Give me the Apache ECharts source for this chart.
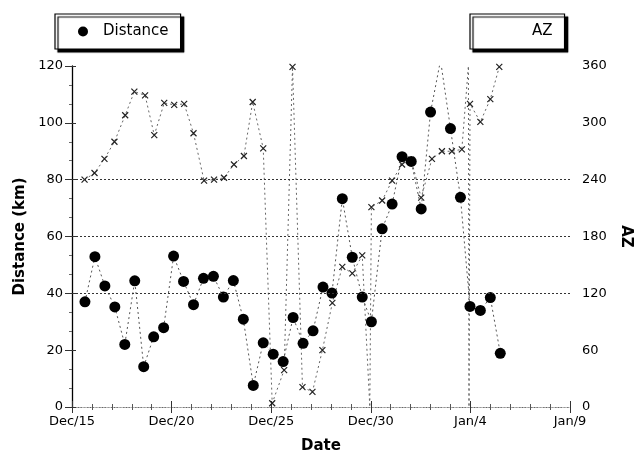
<!DOCTYPE html>
<html>
<head>
<meta charset="utf-8">
<script src="https://cdn.jsdelivr.net/npm/echarts@6/dist/echarts.min.js"></script>
<style>
  html, body { margin: 0; padding: 0; background: #fff; }
  #chart { width: 641px; height: 459px; }
</style>
</head>
<body>
<div id="chart"></div>
<script>
// Tick labels for the date axis (every 5 days from Dec 15)
const dateLabels = ['Dec/15', 'Dec/20', 'Dec/25', 'Dec/30', 'Jan/4', 'Jan/9'];

// Distance readings: days after Dec 15 and distance in km
const distDay = [0.65, 1.15, 1.65, 2.15, 2.65, 3.15, 3.6, 4.1, 4.6, 5.1,
                 5.6, 6.1, 6.6, 7.1, 7.6, 8.1, 8.6, 9.1, 9.6, 10.1,
                 10.6, 11.1, 11.6, 12.1, 12.6, 13.05, 13.57, 14.07, 14.57, 15.03,
                 15.57, 16.07, 16.57, 17.03, 17.53, 18.0, 18.5, 19.0, 19.5, 19.98,
                 20.5, 21.0, 21.5];
const distKm = [37.0, 52.9, 42.6, 35.2, 22.0, 44.4, 14.2, 24.7, 27.9, 53.1,
                44.2, 36.0, 45.3, 46.0, 38.7, 44.5, 30.9, 7.6, 22.6, 18.6,
                16.0, 31.5, 22.4, 26.8, 42.2, 40.1, 73.3, 52.7, 38.7, 30.0,
                62.7, 71.4, 88.1, 86.4, 69.7, 103.8, 122, 98.0, 73.8, 35.4,
                34.0, 38.5, 18.9];

// Azimuth readings: days after Dec 15 and azimuth in degrees (wraps at 0/360)
const azDay = [0.63, 1.13, 1.63, 2.13, 2.67, 3.13, 3.67, 4.13, 4.63, 5.13,
               5.63, 6.1, 6.63, 7.13, 7.63, 8.13, 8.63, 9.07, 9.6, 10.05,
               10.65, 11.07, 11.57, 12.07, 12.57, 13.07, 13.57, 14.07, 14.57, 14.95,
               15.03, 15.57, 16.07, 16.57, 17.03, 17.53, 18.07, 18.57, 19.07, 19.57,
               19.9, 19.93, 19.98, 20.5, 21.0, 21.45];
const azDeg = [240, 247, 262, 280, 308, 333, 329, 287, 321, 319,
               320, 289, 239, 240, 242, 256, 265, 322, 273, 4,
               39, 359, 21, 16, 60, 110, 148, 141, 160, 0,
               211, 218, 239, 256, 261, 221, 262, 270, 270, 272,
               360, 0, 320, 301, 325, 359];

// Horizontal reference lines (km)
const kmGrid = [40, 60, 80];

const FONT = 'DejaVu Sans';
const X_PATH = 'path://M0,0L10,10M10,0L0,10';

// Points sitting exactly on the 0/360 boundary only carry the wrap of the line
const azData = azDay.map((d, i) => {
  const v = azDeg[i];
  return (v === 0 || v === 360) ? { value: [d, v], symbol: 'none' } : [d, v];
});
const distData = distDay.map((d, i) => [d, distKm[i]]);

const chart = echarts.init(document.getElementById('chart'), null, { renderer: 'canvas' });

const legendBox = {
  orient: 'horizontal',
  top: 14,
  backgroundColor: '#fff',
  borderColor: '#000',
  borderWidth: 1.2,
  borderRadius: 0,
  shadowColor: '#000',
  shadowBlur: 1,
  shadowOffsetX: 3,
  shadowOffsetY: 3,
  itemHeight: 10,
  itemWidth: 10
};

const option = {
  animation: false,
  backgroundColor: '#fff',
  grid: { left: 72, right: 69, top: 66, bottom: 50 },
  legend: [
    Object.assign({}, legendBox, {
      left: 55,
      padding: [10, 12, 10, 23],
      data: [{ name: 'Distance', icon: 'circle' }],
      itemStyle: { color: '#000' },
      textStyle: { fontFamily: FONT, fontSize: 15, color: '#000', padding: [0, 0, 0, 10] }
    }),
    Object.assign({}, legendBox, {
      left: 470,
      padding: [10, 12, 10, 8],
      data: [{ name: 'AZ', icon: 'rect' }],
      itemStyle: { opacity: 0 },
      textStyle: { fontFamily: FONT, fontSize: 15, color: '#000', padding: [0, 0, 0, 38] }
    })
  ],
  xAxis: [
    {
      type: 'value', min: 0, max: 25, interval: 5,
      name: 'Date', nameLocation: 'middle', nameGap: 32,
      nameTextStyle: { fontFamily: FONT, fontSize: 15, fontWeight: 'bold', color: '#000' },
      axisLine: { show: true, lineStyle: { color: '#666', width: 1, type: [1, 2] } },
      axisTick: { show: true, inside: true, length: 6, lineStyle: { color: '#333' } },
      minorTick: { show: true, splitNumber: 5, length: 3, lineStyle: { color: '#555' } },
      splitLine: { show: false },
      axisLabel: {
        color: '#000', fontFamily: FONT, fontSize: 13, margin: 8,
        formatter: v => dateLabels[Math.round(v / 5)]
      }
    },
    {
      type: 'value', min: 0, max: 25, interval: 5, position: 'top',
      axisLine: { show: true, lineStyle: { color: '#999', width: 1, type: [1, 3] } },
      axisTick: { show: true, inside: true, length: 6, lineStyle: { color: '#333' } },
      minorTick: { show: true, splitNumber: 5, length: 3, lineStyle: { color: '#555' } },
      splitLine: { show: false },
      axisLabel: { show: false }
    }
  ],
  yAxis: [
    {
      type: 'value', min: 0, max: 120, interval: 20, position: 'left',
      name: 'Distance (km)', nameLocation: 'middle', nameGap: 42,
      nameTextStyle: { fontFamily: FONT, fontSize: 15, fontWeight: 'bold', color: '#000' },
      axisLine: { show: true, lineStyle: { color: '#000', width: 1.3 } },
      axisTick: { show: true, inside: true, length: 4, lineStyle: { color: '#333' } },
      splitLine: { show: false },
      axisLabel: { color: '#000', fontFamily: FONT, fontSize: 13, margin: 9 }
    },
    {
      type: 'value', min: 0, max: 360, interval: 60, position: 'right',
      name: 'AZ', nameLocation: 'middle', nameGap: 48, nameRotate: -90,
      nameTextStyle: { fontFamily: FONT, fontSize: 15, fontWeight: 'bold', color: '#000' },
      axisLine: { show: false },
      axisTick: { show: true, inside: true, length: 7, lineStyle: { color: '#333' } },
      minorTick: { show: true, splitNumber: 3, length: 3, lineStyle: { color: '#666' } },
      splitLine: { show: false },
      axisLabel: { color: '#000', fontFamily: FONT, fontSize: 13, margin: 12 }
    }
  ],
  series: [
    {
      name: 'AZ', type: 'line', xAxisIndex: 0, yAxisIndex: 1,
      data: azData,
      symbol: X_PATH, symbolSize: 6,
      itemStyle: { color: '#222', borderColor: '#222', borderWidth: 1.2 },
      lineStyle: { color: '#666', width: 1, type: [2, 3] },
      clip: true, z: 2
    },
    {
      name: 'Distance', type: 'line', xAxisIndex: 0, yAxisIndex: 0,
      data: distData,
      symbol: 'circle', symbolSize: 11,
      itemStyle: { color: '#000' },
      lineStyle: { color: '#555', width: 1, type: [2, 3] },
      clip: true, z: 3,
      markLine: {
        silent: true, symbol: 'none', animation: false,
        label: { show: false },
        lineStyle: { color: '#333', width: 1, type: [2, 2] },
        data: kmGrid.map(v => ({ yAxis: v }))
      }
    }
  ]
};

chart.setOption(option);
</script>
</body>
</html>
